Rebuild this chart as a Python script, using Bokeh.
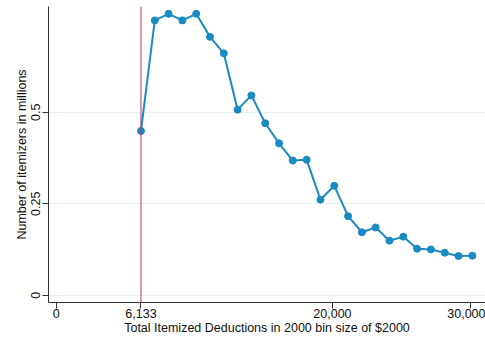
from bokeh.plotting import figure
from bokeh.models import FixedTicker, NumeralTickFormatter, Span, Range1d
from bokeh.embed import file_html
from bokeh.resources import INLINE

# Data
deductions = [6133, 7133, 8133, 9133, 10133, 11133, 12133, 13133, 14133, 15133,
              16133, 17133, 18133, 19133, 20133, 21133, 22133, 23133, 24133, 25133,
              26133, 27133, 28133, 29133, 30133]
itemizers = [0.449, 0.751, 0.769, 0.751, 0.769, 0.706, 0.661, 0.507, 0.546, 0.470,
             0.415, 0.368, 0.370, 0.261, 0.299, 0.216, 0.172, 0.185, 0.149, 0.160,
             0.127, 0.125, 0.116, 0.107, 0.108]
x_ticks = [0, 6133, 20000, 30000]
y_ticks = [0, 0.25, 0.5]
y_tick_labels = {0: "0", 0.25: "0.25", 0.5: "0.5"}
threshold = 6133

FONT = "Liberation Sans"
TXT = "#111111"
AX = "#333333"

p = figure(width=485, height=339, output_backend="svg", toolbar_location=None,
           x_range=Range1d(-566, 31088), y_range=Range1d(-0.020, 0.789),
           min_border_left=48, min_border_right=0, min_border_top=6, min_border_bottom=37)
p.outline_line_color = None
p.background_fill_color = "white"
p.border_fill_color = "white"

p.xgrid.grid_line_color = None
p.ygrid.grid_line_color = "#e8f0f1"
p.ygrid.grid_line_width = 1
p.ygrid.ticker = FixedTicker(ticks=y_ticks)

p.xaxis.ticker = FixedTicker(ticks=x_ticks)
p.xaxis.formatter = NumeralTickFormatter(format="0,0")
p.yaxis.ticker = FixedTicker(ticks=y_ticks)
p.yaxis.major_label_overrides = y_tick_labels
p.yaxis.major_label_orientation = "vertical"

for ax in (p.xaxis, p.yaxis):
    ax.axis_line_color = AX
    ax.axis_line_width = 1
    ax.major_tick_line_color = AX
    ax.major_tick_in = 0
    ax.major_tick_out = 6
    ax.minor_tick_line_color = None
    ax.major_label_text_font = FONT
    ax.major_label_text_font_size = "12.5px"
    ax.major_label_text_color = TXT
    ax.axis_label_text_font = FONT
    ax.axis_label_text_font_size = "12.5px"
    ax.axis_label_text_font_style = "normal"
    ax.axis_label_text_color = TXT

p.xaxis.major_label_standoff = 0
p.xaxis.axis_label_standoff = 0
p.yaxis.major_label_standoff = 2
p.yaxis.axis_label_standoff = 0
p.xaxis.axis_label = "Total Itemized Deductions in 2000 bin size of $2000"
p.yaxis.axis_label = "Number of itemizers in millions"

p.add_layout(Span(location=threshold, dimension="height", line_color="#c3305a", line_width=1))

p.line(deductions, itemizers, line_color="#1a8bc1", line_width=2)
p.scatter(deductions, itemizers, size=7, fill_color="#1a8bc1", line_color="#1a8bc1")

open("out.html", "w").write(file_html(p, INLINE))
